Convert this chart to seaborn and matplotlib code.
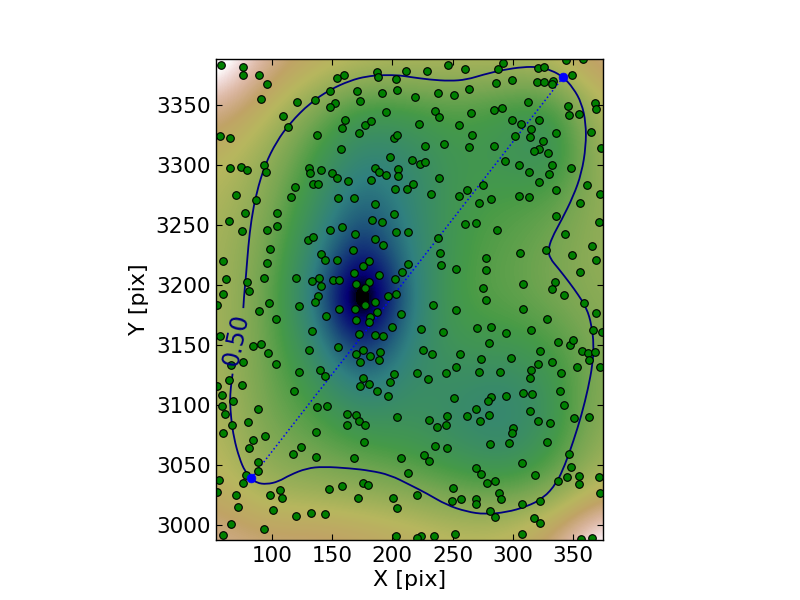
import numpy as np
import pandas as pd
import matplotlib
matplotlib.use("Agg")
import matplotlib.pyplot as plt
from matplotlib.path import Path
from matplotlib.patches import PathPatch
import seaborn as sns

star_x = [58,76,76,89.5,96,91,121,136,148,154,160,187.5,188,203,211,204,191,171,173,152,148,194.5,109,113,161,158.5,177.5,182,172,137,201,204,57,65,157,198,93,65,74.5,79.5,95,131,132,141,150,154,163.5,182,186,189,195,205,205,202,212.5,119.5,134,138,116,70,87,155,168.5,186,78,104,201,64.5,183,191,104,96,75,148,158.5,169,203,213,130,134,186,192,98,141,167.5,144,154,59,96,181,176,213,168.5,208,189,62,93,79.5,120,133,139,151,156,170,181,202,141,177.5,81,59.5,138.5,196,203,
246.4,229,260.6,288,292,321,326,344.5,358,349.5,320.4,326,333.7,333,299,286.3,264,238,251.4,219,313,346,368.6,369.4,347,355.3,235.6,239,265.5,284.7,291.3,299,307,322,222.4,255.6,315.4,336,365,266.4,302,314.6,325.4,227.3,243,264,284.7,322,318,329.5,373.5,294,216.5,223,227.3,305.4,333,348.6,313.7,330.3,239,217.4,322,275.5,362,262,336,232.3,255.6,282,305.4,313.7,272,356,372.7,336,260.6,269.7,372,287,343.6,238,366,240,306,328,278,349.5,369.4,240.6,253,278,356,335.3,308.7,275.5,333,343,278,
54.6,97.8,89.5,103.6,122.7,136,145,156,169,177.5,186,187,181.7,181,170,207.5,200,133.5,172.5,186,192.5,57,84.5,91,97,131,155,176,170,181.7,190,189,173.4,76,66.2,103.6,122.7,140,144.3,201.6,176,198.3,181,173.4,64.6,75.4,54.6,118.5,187.5,58.7,196.6,68,58.7,88.7,137.7,146,61.2,162.6,170,204,172.5,80.3,67,162.6,177.5,59.6,136.8,94.5,84.5,176.7,81,124.4,117.7,136.8,168.4,207.5,88.7,88.7,213.3,78.7,56.3,76.2,176,180,158.4,147.6,107,54.6,70.4,98.6,108.6,171.7,200.8,72,101,204,132.7,144.3,120.2,66.2,93.6,59.6,203.3,
234,253,308.7,328.7,359.4,369.4,224,242.3,270.5,282,294.6,315.4,367,374.4,280.5,337.8,347.8,350.3,225.7,233,256.4,273.9,298.8,322.9,357.8,362.7,368.6,363.6,332.8,321,253,353.6,372.7,220.7,244.8,272.2,289.6,315.4,340.3,229.8,314.6,339.5,251.4,282,279.7,294.6,308.7,316.2,342.8,269.7,314.6,245.6,262.2,280.5,351,363.6,230.7,273,321,331.2,244.8,237.3,300.4,299.6,297,281.3,328.7,235.6,245.6,226.5,347,230.7,308,348.6,269.7,273.9,318.7,345.3,355.3,371.9,285.5,278.8,337.8,355.3,250.6,220.7,288.8,290.5,372.7,257.2,249.8,269.7,269.7,308,322.9,281.3,285.5,317.9,322.9,252.3,224,234.8,308,357,366,220.7]
star_y = [3383,3381,3375,3375,3367,3355,3352,3354,3361,3372,3375,3377,3373,3371,3378,3362,3360,3361,3353,3351,3348,3344,3340.5,3331,3337,3330.5,3333,3336,3326,3325,3322,3325,3324,3322,3313,3306,3300,3297,3298,3295.5,3294,3297,3293,3295.5,3293,3289,3286.5,3287,3297,3294,3291,3296,3290.5,3280,3280,3281.5,3284,3284,3273,3275,3270.5,3272,3272,3267,3260,3260,3259,3253,3254,3252,3249,3245.5,3245,3246,3248,3242,3244,3244,3237,3240,3238,3233,3230,3226,3229,3220.5,3221,3220,3218,3220,3216,3217,3210,3210.5,3208,3205,3206,3202,3206,3203,3206,3204,3204,3201,3202,3205,3199,3197,3195,3192,3191,3191,3192,
3383,3378,3380,3380,3385,3380.5,3381.4,3387,3388,3375,3369,3369,3370,3367,3370.5,3368,3363,3359.7,3358,3356,3352,3349,3351.4,3346.4,3341,3342,3344.7,3339.7,3343,3345.5,3347,3337,3334,3337,3334,3333,3329.7,3326,3327,3324.7,3324,3323,3319.7,3315.5,3317,3314.7,3315.5,3313,3311,3309.7,3314,3303,3304,3300.5,3302,3299.7,3299.7,3297,3294,3292,3288.8,3284,3285.5,3283,3283,3279,3279,3275.5,3274,3271.3,3274,3273,3268,3268,3276,3257,3250.5,3251.3,3252,3245.5,3242,3238.8,3232,3226.3,3226.3,3229,3222,3224.7,3220.5,3216.3,3213,3212,3210.5,3202,3200.5,3197,3196.3,3191.3,3187.5,
3183,3184.8,3178,3171.4,3182.3,3185.6,3174,3179.8,3179.8,3183,3185.6,3177.3,3173,3169,3170.6,3175.6,3164.8,3161.4,3159,3158,3157.3,3157.3,3149,3150.6,3143,3145.6,3148,3145.6,3142.3,3140.6,3144,3137,3135.6,3135.6,3133,3134,3127.3,3129,3124,3125.6,3122.3,3119,3117.3,3115.6,3120.6,3116.4,3115.6,3111.4,3111.4,3108,3107.3,3103,3099,3096.4,3098,3099,3092.2,3092.2,3091.4,3089.7,3086.4,3085.6,3083,3083,3083,3076.4,3077.2,3074,3070.6,3069,3064,3064.7,3059,3056.4,3055.6,3055.6,3052.2,3044.7,3043,3041.4,3037.2,3034.7,3034.7,3033,3032.2,3029.7,3029,3027.2,3024.7,3024.7,3022.2,3022.2,3022.2,3014.7,3012.2,3014,3009.7,3009,3007.2,3000.6,2996.4,2991.4,2990.6,
3183,3179,3179.8,3171.4,3184.8,3176.4,3163,3160.6,3164,3164.8,3159.7,3162.3,3162.3,3160.6,3151.4,3152.2,3149.7,3154,3145.6,3142.3,3142.3,3138,3138.9,3144.7,3144.7,3143,3144,3137.3,3135.6,3134,3131.4,3131.4,3131.4,3126.4,3126.4,3127.3,3127.3,3129,3126.4,3121.4,3122.3,3111.4,3105.6,3106.4,3103,3107.3,3109.7,3108.9,3099.7,3096.4,3094.7,3090.6,3090.6,3091.4,3089,3089.7,3087.2,3086.4,3086.4,3084.7,3083,3081.4,3080.6,3076.4,3068,3067.2,3069,3065.6,3064,3058,3059,3053,3051.4,3048,3047.2,3042.2,3041.4,3039.7,3040.6,3039.7,3036.4,3034.7,3036.4,3033.9,3030.6,3024.7,3026.4,3021.4,3026.4,3021.4,3019.7,3021.4,3017.2,3017.2,3019.7,3011.4,3006.4,3005.6,3001.4,2992.2,2990.6,2990.6,2992.2,2988,2988.9,2989]

grid_x = [55,95,135,175,215,255,295,335,375]
grid_y = [3388,3348,3308,3268,3228,3188,3148,3108,3068,3028,2988]
field = [
 [1.12,.87,.77,.71,.69,.69,.69,.71,.86],
 [.86,.72,.56,.44,.46,.49,.44,.42,.70],
 [.73,.62,.46,.30,.34,.44,.41,.36,.66],
 [.68,.58,.40,.18,.32,.45,.47,.50,.62],
 [.66,.55,.33,.02,.30,.46,.50,.55,.62],
 [.66,.53,.28,-.25,.28,.48,.50,.55,.60],
 [.66,.53,.36,.05,.33,.43,.42,.46,.58],
 [.68,.53,.45,.30,.38,.35,.31,.41,.60],
 [.70,.56,.52,.46,.43,.37,.32,.43,.62],
 [.75,.64,.62,.60,.57,.52,.50,.56,.72],
 [.86,.82,.83,.80,.76,.72,.73,.84,1.08],
]

contour_x = [76.2,76.7,78.4,80.3,82.8,87,94.2,103.9,115,131.6,148.2,164.8,178.6,192.5,206.3,214.6,231.2,247.8,261.7,275.5,292.1,308.7,321.2,332.3,342,350.3,357.2,360.8,360.8,357.2,350.3,340.6,332.3,329.5,330.9,337.8,347.5,354.4,361.4,365.5,367.4,366.3,362.7,357.2,350.3,343.4,336.4,325.4,311.5,294.9,276.9,261.7,245,228.4,214.6,198,181.4,164.8,142.6,128.8,115,105.3,95.6,87.3,82.8,77.6,72.9,68.4,66,65.1,65.7,67.3]
contour_y = [3180.6,3190,3207,3232,3254,3276.3,3300,3319.4,3334.7,3351.4,3362.5,3370,3373.6,3374.7,3374.4,3373,3370.8,3369.7,3370.8,3375,3379,3381.4,3381.4,3378.6,3373,3363.8,3351.4,3334.7,3315.2,3293,3273.6,3254,3238.8,3229,3222,3213.8,3201.3,3191.7,3180.6,3166.7,3150,3133.4,3114,3091.7,3069.5,3050,3034.7,3022.2,3015.3,3010.6,3008.9,3011.1,3016.7,3026.4,3033.4,3041.7,3045.3,3047.2,3048.6,3047.2,3041.7,3036.1,3033.9,3035,3039,3044.5,3055.6,3072.2,3089,3102.8,3114,3126]

end_x = [82.8,342]
end_y = [3039,3373]
x_ticks = [100,150,200,250,300,350]
y_ticks = [3000,3050,3100,3150,3200,3250,3300,3350]
contour_label = "0.50"

sns.set_style("ticks")
plt.rcParams['font.family'] = ['DejaVu Sans']
plt.rcParams['text.color'] = 'black'
plt.rcParams['axes.labelcolor'] = 'black'
plt.rcParams['xtick.color'] = 'black'
plt.rcParams['ytick.color'] = 'black'
fig = plt.figure(figsize=(8,6), dpi=100)
ax = fig.add_axes([216/800, 1-540/600, 387/800, 481/600])
ax.set_axisbelow(False)

dx = (grid_x[1]-grid_x[0])/2
dy = (grid_y[0]-grid_y[1])/2
ax.imshow(np.array(field), cmap="gist_earth", vmin=0, vmax=1, interpolation="bicubic",
          extent=[grid_x[0]-dx, grid_x[-1]+dx, grid_y[-1]-dy, grid_y[0]+dy],
          origin="upper", aspect="auto", zorder=1)

# the contour as a smooth quadratic path, its listed points acting as control points
pts = np.column_stack([contour_x, contour_y])
verts = [pts[0]]
codes = [Path.MOVETO]
for i in range(1, len(pts)-1):
    verts += [pts[i], (pts[i]+pts[i+1])/2]
    codes += [Path.CURVE3, Path.CURVE3]
verts.append(pts[-1])
codes.append(Path.LINETO)
ax.add_patch(PathPatch(Path(verts, codes), fc="none", ec="#000080", lw=1.3, zorder=3))

ax.plot(end_x, end_y, color="#0000ff", lw=1.1, ls=":", zorder=3)
stars = pd.DataFrame({"x": star_x, "y": star_y})
sns.scatterplot(data=stars, x="x", y="y", color="#008000", edgecolor="black",
                s=30, linewidth=0.8, ax=ax, zorder=4, legend=False)
sns.scatterplot(x=end_x, y=end_y, color="#0000ff", edgecolor="#0000ff", s=40,
                linewidth=0.5, ax=ax, zorder=5, legend=False)
ax.text(70.5, 3154, contour_label, rotation=78, color="#000080", fontsize=17,
        ha="center", va="center", zorder=6)

ax.set_xlim(53.5, 375)
ax.set_ylim(2987.5, 3388)
ax.set_xticks(x_ticks)
ax.set_yticks(y_ticks)
ax.set_xlabel("X [pix]", fontsize=16, labelpad=3)
ax.set_ylabel("Y [pix]", fontsize=16, labelpad=5)
ax.tick_params(direction="in", top=True, right=True, length=4, width=0.8,
               labelsize=15.5, pad=4, color="black")
for s in ax.spines.values():
    s.set_visible(True)
    s.set_linewidth(1.0)
    s.set_color("black")
    s.set_zorder(7)
fig.savefig("out.png", dpi=100)
